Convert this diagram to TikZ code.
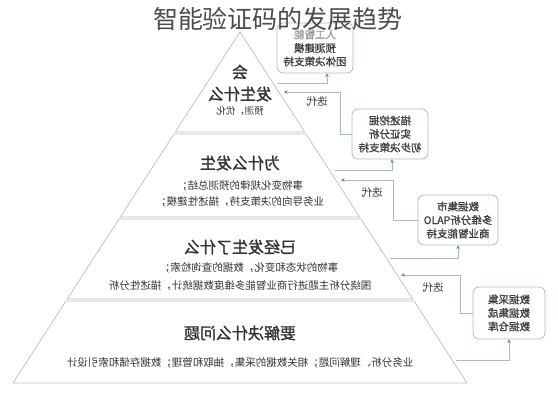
\documentclass[tikz,border=0pt]{standalone}
\usepackage{fontspec}
\setmainfont{Noto Sans CJK SC}
\newfontfamily\cjkb[FakeBold=1.2]{Noto Sans CJK SC}
\usetikzlibrary{arrows.meta}
\definecolor{linkc}{HTML}{A7BAD2}
\definecolor{tipc}{HTML}{5A86C0}
\definecolor{boxc}{HTML}{A9BCD4}
\definecolor{txt}{HTML}{333333}
\begin{document}
\begin{tikzpicture}[x=1pt,y=-1pt,
  layer/.style={draw=black!25, fill=white, line width=0.7pt},
  mir/.style={xscale=-1, transform shape, inner sep=0pt, text=txt},
  head/.style={mir, font=\cjkb\fontsize{16}{18}\selectfont},
  body/.style={mir, font=\fontsize{10.5}{12}\selectfont},
  infobox/.style={draw=boxc, line width=0.8pt, rounded corners=6pt, fill=white,
    minimum width=#1, minimum height=50pt, align=center, xscale=-1, transform shape,
    font=\cjkb\fontsize{10.5}{13.5}\selectfont, text=black!75, inner sep=2pt},
  infobox/.default=76pt,
  link/.style={draw=linkc, line width=0.8pt},
  tipin/.style={link, {Stealth[length=3.5pt,width=3.5pt,color=tipc]}-},
  tipout/.style={link, -{Stealth[length=3.5pt,width=3.5pt,color=tipc]}},
  iter/.style={mir, font=\fontsize{10.5}{12}\selectfont}
]
\useasboundingbox (0,0) rectangle (558,400);
\fill[white] (0,0) rectangle (558,400);

% pyramid layers
\draw[layer] (240,32) -- (304.7,132) -- (175.3,132) -- cycle;
\draw[layer] (174,134) -- (306,134) -- (359.7,217) -- (120.3,217) -- cycle;
\draw[layer] (119,219) -- (361,219) -- (412.7,299) -- (67.3,299) -- cycle;
\draw[layer] (66,301) -- (414,301) -- (467,383) -- (13,383) -- cycle;

% layer texts
\node[head] (l1a) at (240,72) {会};
\node[head] (l1b) at (240,94) {发生什么};
\node[mir, font=\fontsize{9.5}{11}\selectfont] (l1c) at (240,111) {预测，优化};

\node[head] (l2a) at (240,163) {为什么发生};
\node[body] (l2b) at (240,186) {事物变化规律的预测总结；};
\node[body] (l2c) at (240,202) {业务导向的决策支持，描述性建模；};

\node[head] (l3a) at (240,247) {已经发生了什么};
\node[body] (l3b) at (249,268) {事物的状态和变化，数据的查询检索；};
\node[body] (l3c) at (240,286) {围绕分析主题进行商业智能多维度数据统计，描述性分析};

\node[head] (l4a) at (240,333) {要解决什么问题};
\node[body] (l4b) at (240,363) {业务分析、理解问题；相关数据的采集，抽取和管理；数据存储和索引设计};

% side boxes
\node[infobox] (b1) at (315,48) {\textcolor{black!40}{人工智能}\\预测建模\\团体决策支持};
\node[infobox] (b2) at (390,134) {描述挖掘\\实证分析\\初步决策支持};
\node[infobox=80pt] (b3) at (458,220) {数据集市\\多维分析\reflectbox{OLAP}\\商业智能支持};
\node[infobox=72pt, minimum height=52pt] (b4) at (509,313) {数据采集\\数据集成\\数据仓库};

% edge points
\coordinate (e1o) at (278,83);
\coordinate (e1i) at (284,92);
\coordinate (e2o) at (335,170);
\coordinate (e2i) at (341,180);
\coordinate (e3o) at (390,258);
\coordinate (e3i) at (401,275);
\coordinate (e4o) at (456,360);

% connectors
\draw[tipout] (e1o) -| (b1.south -| 327,0);
\draw[tipin] (e1i) -- (340,92) |- (b2.east);
\draw[tipout] (e2o) -| (b2.south -| 392,0);
\draw[tipin] (e2i) -- (393,180) |- (b3.east);
\draw[tipout] (e3o) -| (b3.south);
\draw[tipin] (e3i) -- (460,275) |- (b4.east);
\draw[tipout] (e4o) -| (b4.south);

% labels
\node[iter] (t1) at (317,102) {迭代};
\node[iter] (t2) at (372,193) {迭代};
\node[iter] (t3) at (433,288) {迭代};

% title
\node[font=\fontsize{25}{27}\selectfont, text=black!70, inner sep=0pt] (title) at (278,19) {智能验证码的发展趋势};
\end{tikzpicture}
\end{document}
